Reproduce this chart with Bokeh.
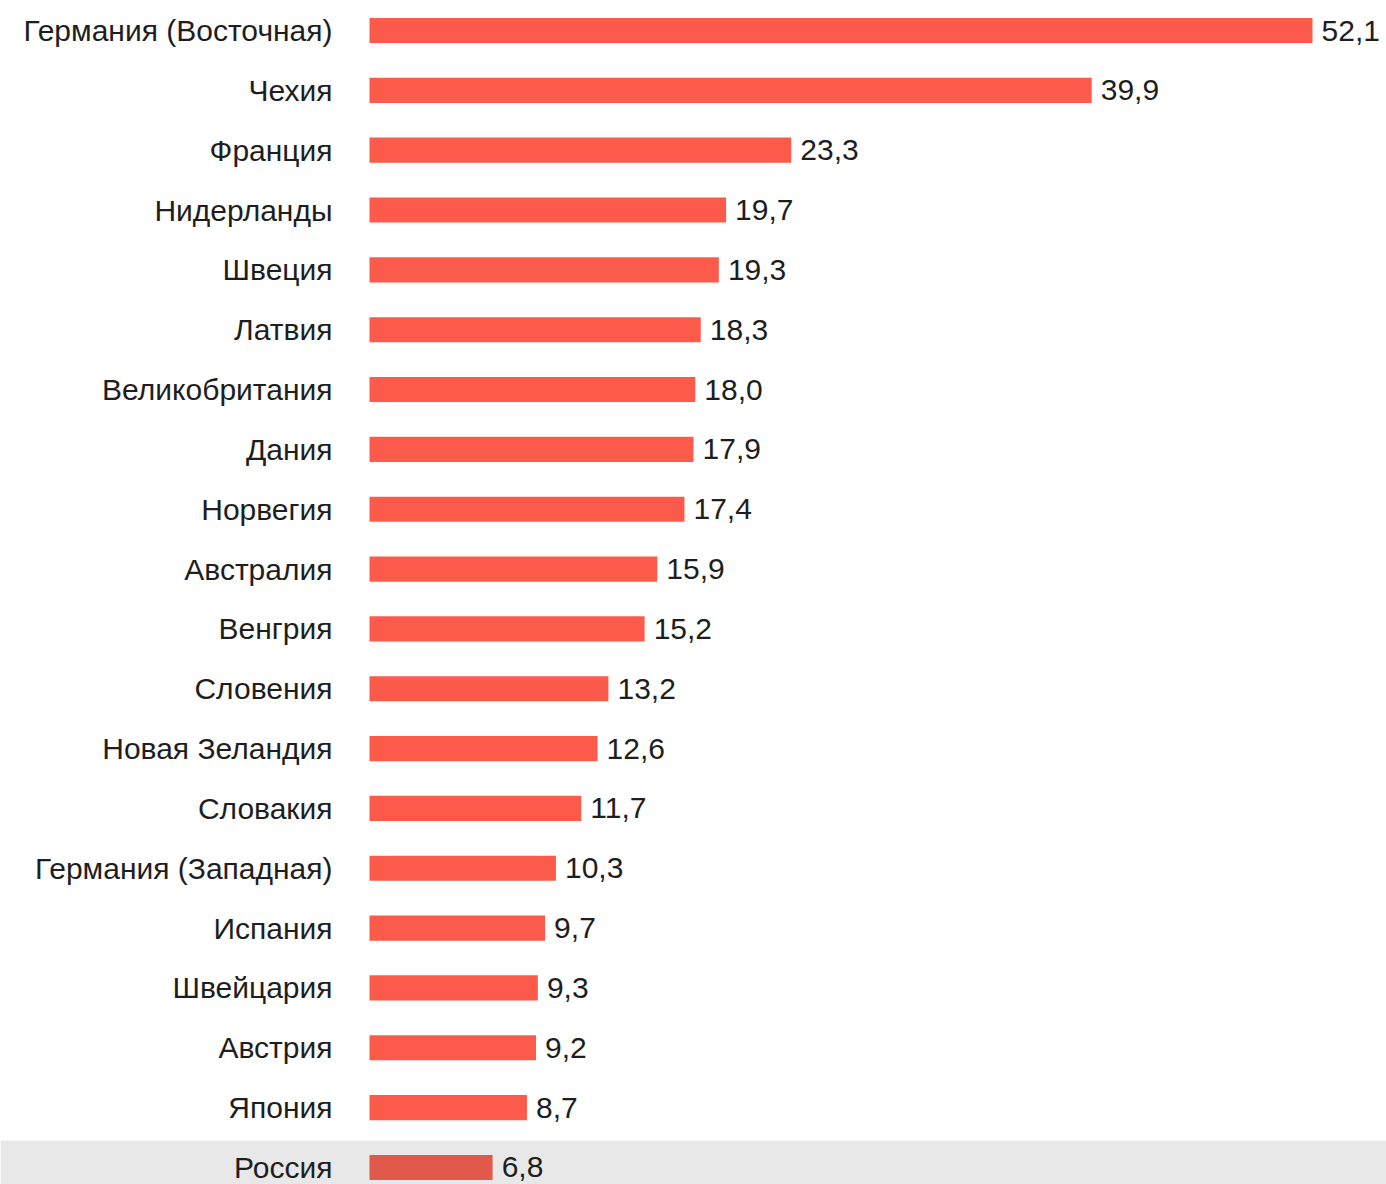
from bokeh.plotting import figure
from bokeh.models import ColumnDataSource, Range1d, BoxAnnotation
from bokeh.core.properties import value
from bokeh.embed import file_html
from bokeh.resources import INLINE

countries = ["Германия (Восточная)", "Чехия", "Франция", "Нидерланды", "Швеция",
             "Латвия", "Великобритания", "Дания", "Норвегия", "Австралия",
             "Венгрия", "Словения", "Новая Зеландия", "Словакия", "Германия (Западная)",
             "Испания", "Швейцария", "Австрия", "Япония", "Россия"]
values = [52.1, 39.9, 23.3, 19.7, 19.3, 18.3, 18.0, 17.9, 17.4, 15.9,
          15.2, 13.2, 12.6, 11.7, 10.3, 9.7, 9.3, 9.2, 8.7, 6.8]
value_labels = [f"{v:.1f}".replace(".", ",") for v in values]
highlight = "Россия"

W, H = 1386, 1184
pxu = 18.1
x0 = 369
pitch = 59.84
top0 = 30

pos = list(range(len(countries)))
colors = ["#e0594a" if c == highlight else "#fc5b4b" for c in countries]

src = ColumnDataSource(dict(
    y=pos, v=values, c=countries, lab=value_labels, col=colors,
    lx=[v + 0.5 for v in values], nx=[-37 / pxu] * len(values),
))

p = figure(width=W, height=H, output_backend="svg", toolbar_location=None,
           x_range=Range1d(-x0 / pxu, (W - x0) / pxu),
           y_range=Range1d((H - top0) / pitch, -top0 / pitch),
           min_border=0, min_border_left=0, min_border_right=0,
           min_border_top=0, min_border_bottom=0)
p.axis.visible = False
p.grid.visible = False
p.outline_line_color = None
p.background_fill_color = "white"

hi = countries.index(highlight)
p.add_layout(BoxAnnotation(top=hi - 0.45, bottom=hi + 2, fill_color="#e8e8e8",
                           fill_alpha=1.0, line_color=None, level="underlay"))

p.hbar(y="y", left=0, right="v", height=0.42, fill_color="col", line_color=None, source=src)

p.text(x="nx", y="y", text="c", source=src, text_align="right", text_baseline="middle",
       text_font=value("Liberation Sans"), text_font_size="30px", text_color="#1e1e1e")
p.text(x="lx", y="y", text="lab", source=src, text_align="left", text_baseline="middle",
       text_font=value("Liberation Sans"), text_font_size="30px", text_color="#1e1e1e")

open("out.html", "w").write(file_html(p, INLINE))
